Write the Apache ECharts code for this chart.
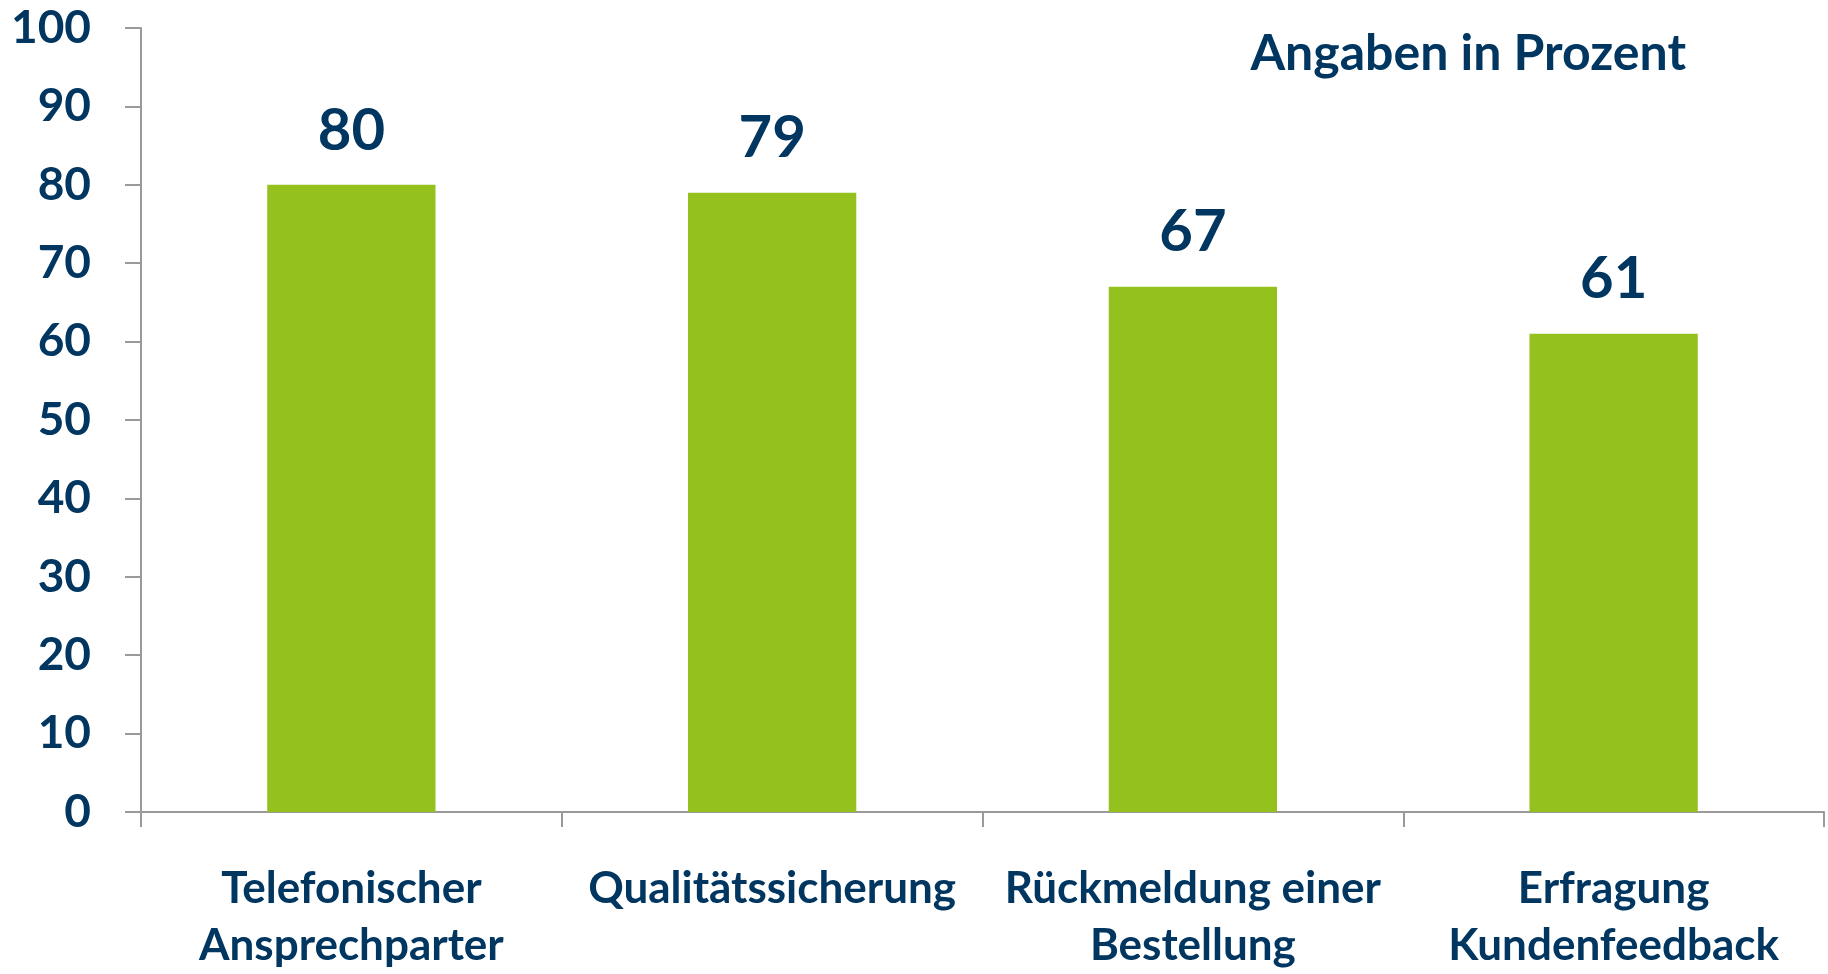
<!DOCTYPE html>
<html>
<head>
<meta charset="utf-8">
<script src="https://cdn.jsdelivr.net/npm/echarts@6/dist/echarts.min.js"></script>
<style>
  html, body { margin: 0; padding: 0; background: #fff; overflow: hidden; }
  #bar-container { width: 1828px; height: 974px; }
</style>
</head>
<body>
<div id="bar-container"></div>
<script>
// chart data
const categories = ["Telefonischer\nAnsprechparter", "Qualitätssicherung", "Rückmeldung einer\nBestellung", "Erfragung\nKundenfeedback"];
const values = [80, 79, 67, 61];
const yTicks = [0, 10, 20, 30, 40, 50, 60, 70, 80, 90, 100];
const noteText = "Angaben in Prozent";

const navy = "#003660";
const axisGray = "#9a9a9a";
const fontName = "Lato";

const chart = echarts.init(document.getElementById("bar-container"));
chart.setOption({
  animation: false,
  grid: { left: 141, right: 4, top: 28, bottom: 156 },
  graphic: [
    {
      type: "text",
      right: 142,
      top: 29,
      style: { text: noteText, fill: navy, font: "bold 50px " + fontName }
    }
  ],
  xAxis: {
    type: "category",
    data: categories,
    axisLine: { lineStyle: { color: axisGray, width: 2 } },
    axisTick: { show: true, alignWithLabel: false, length: 15, lineStyle: { color: axisGray, width: 2 } },
    axisLabel: {
      color: navy,
      fontFamily: fontName,
      fontWeight: "bold",
      fontSize: 44,
      lineHeight: 57,
      margin: 48,
      interval: 0
    }
  },
  yAxis: {
    type: "value",
    min: yTicks[0],
    max: yTicks[yTicks.length - 1],
    interval: 10,
    splitLine: { show: false },
    axisLine: { show: true, lineStyle: { color: axisGray, width: 2 } },
    axisTick: { show: true, length: 16, lineStyle: { color: axisGray, width: 2 } },
    axisLabel: {
      color: navy,
      fontFamily: fontName,
      fontWeight: "bold",
      fontSize: 46,
      margin: 50
    }
  },
  series: [
    {
      type: "bar",
      data: values,
      barWidth: "40%",
      itemStyle: { color: "#95c11f" },
      label: {
        show: true,
        position: "top",
        distance: 25,
        color: navy,
        fontFamily: fontName,
        fontWeight: "bold",
        fontSize: 58
      }
    }
  ]
});
</script>
</body>
</html>
